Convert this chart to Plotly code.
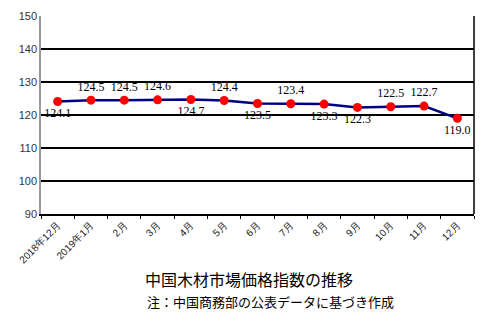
import plotly.graph_objects as go

months = ["2018年12月", "2019年1月", "2月", "3月", "4月", "5月", "6月",
          "7月", "8月", "9月", "10月", "11月", "12月"]
values = [124.1, 124.5, 124.5, 124.6, 124.7, 124.4, 123.5,
          123.4, 123.3, 122.3, 122.5, 122.7, 119.0]
label_pos = ["bottom center", "top center", "top center", "top center", "bottom center",
             "top center", "bottom center", "top center", "bottom center", "bottom center",
             "top center", "top center", "bottom center"]
y_ticks = [90, 100, 110, 120, 130, 140, 150]
title = "中国木材市場価格指数の推移"
note = "注：中国商務部の公表データに基づき作成"

fig = go.Figure()
fig.add_trace(go.Scatter(
    x=months, y=values, mode="lines+markers+text",
    line=dict(color="#000080", width=2.5),
    marker=dict(color="#ff0000", size=9),
    text=[f"{v:.1f}" for v in values],
    textposition=label_pos,
    textfont=dict(family="Liberation Serif", size=12, color="#000"),
    cliponaxis=False,
))

fig.update_layout(
    width=485, height=323,
    margin=dict(l=41, r=11, t=16, b=109),
    plot_bgcolor="white", paper_bgcolor="white",
    showlegend=False,
    xaxis=dict(
        type="category", tickson="boundaries", ticks="outside", ticklen=3,
        tickcolor="#000", tickangle=-45, showline=True, linecolor="#000",
        linewidth=1.5, mirror=False, showgrid=False,
        tickfont=dict(family="Liberation Sans", size=10, color="#222"),
        range=[-0.5, len(months) - 0.5],
    ),
    yaxis=dict(
        range=[90, 150], tickvals=y_ticks, showgrid=True, gridcolor="#000",
        gridwidth=1.5, zeroline=False, showline=True, linecolor="#999",
        linewidth=1.5, ticks="",
        tickfont=dict(family="Liberation Sans", size=11, color="#333"),
    ),
    annotations=[
        dict(text=title, xref="paper", yref="paper", x=0.48, y=-0.328,
             xanchor="center", yanchor="middle", showarrow=False,
             font=dict(family="Noto Sans CJK JP", size=16, color="#000")),
        dict(text=note, xref="paper", yref="paper", x=0.53, y=-0.444,
             xanchor="center", yanchor="middle", showarrow=False,
             font=dict(family="Noto Sans CJK JP", size=13, color="#000")),
    ],
    shapes=[
        dict(type="line", xref="paper", yref="paper", x0=1, x1=1, y0=0, y1=1,
             line=dict(color="#000", width=1.5)),
    ],
)

fig.write_html("out.html")
